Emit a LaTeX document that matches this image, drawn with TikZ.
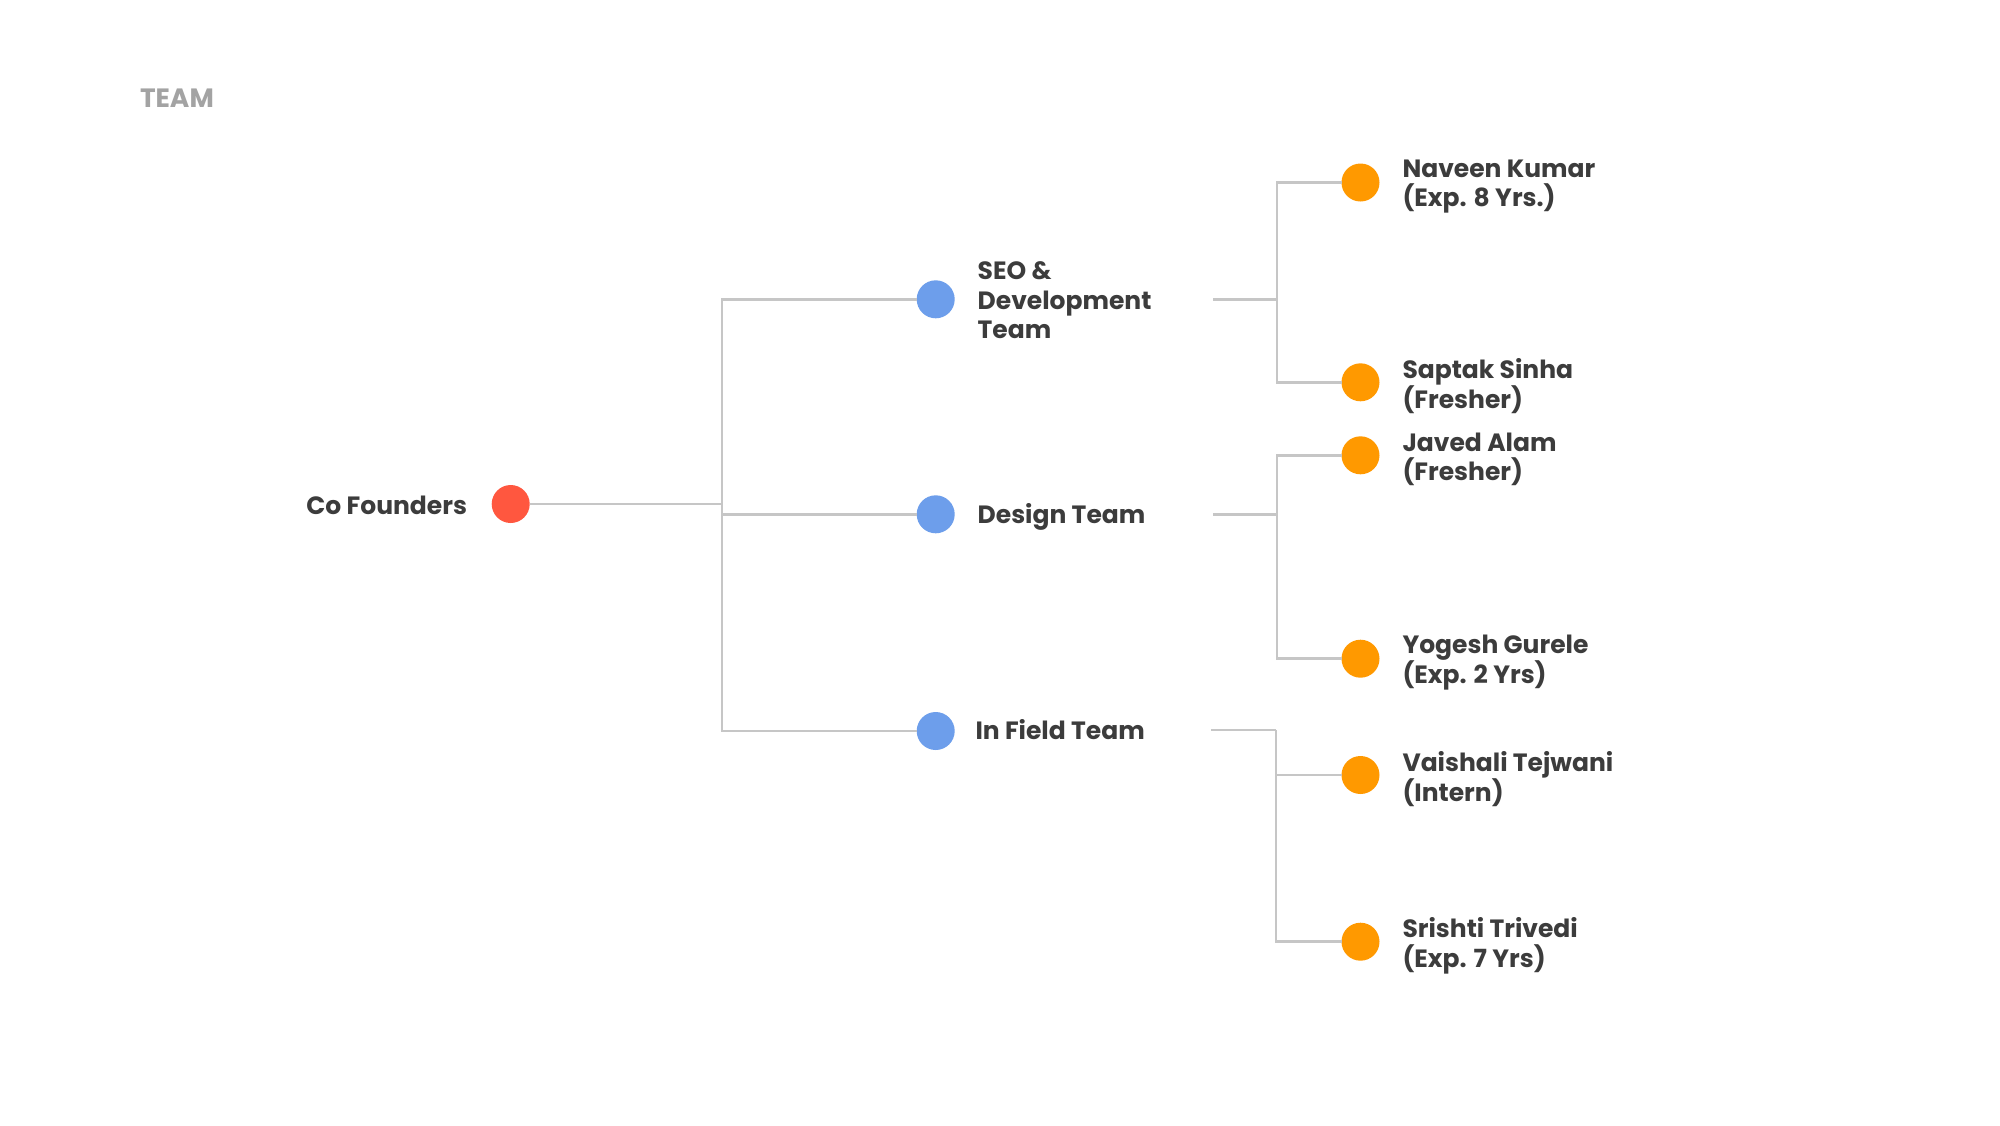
\documentclass[tikz,border=0pt]{standalone}
\usepackage{fontspec}
\setmainfont{Poppins}
\begin{document}
\begin{tikzpicture}[x=1pt,y=-1pt,
  every node/.style={inner sep=0pt, outer sep=0pt},
  dotbase/.style={circle, minimum size=38pt},
  reddot/.style={dotbase, fill=cfred},
  bluedot/.style={dotbase, fill=teamblue},
  orangedot/.style={dotbase, fill=memorange},
  lbl/.style={font=\fontsize{25}{29.5}\selectfont\bfseries, text=labeldark, align=left},
  conn/.style={draw=linegray, line width=2.5pt}]
\definecolor{cfred}{HTML}{FF573F}
\definecolor{teamblue}{HTML}{6D9EEB}
\definecolor{memorange}{HTML}{FF9900}
\definecolor{labeldark}{HTML}{3C3C3C}
\definecolor{linegray}{HTML}{C6C6C6}
\definecolor{titlegray}{HTML}{A3A3A3}
\fill[white] (0,0) rectangle (2000,1125);
\useasboundingbox (0,0) rectangle (2000,1125);

\node[font=\fontsize{26.5}{30}\selectfont\bfseries, text=titlegray, anchor=west] (title) at (140,98) {TEAM};

% dots
\node[reddot] (cf) at (510.7,504) {};
\node[bluedot] (seo) at (935.7,299.3) {};
\node[bluedot] (des) at (935.7,514.3) {};
\node[bluedot] (inf) at (935.7,731) {};
\node[orangedot] (nav) at (1360.5,182.5) {};
\node[orangedot] (sap) at (1360.5,382.3) {};
\node[orangedot] (jav) at (1360.5,455.3) {};
\node[orangedot] (yog) at (1360.5,658.7) {};
\node[orangedot] (vai) at (1360.5,775) {};
\node[orangedot] (sri) at (1360.5,941.7) {};

% labels
\node[lbl, anchor=east] (cfl) at (467,505) {Co Founders};
\node[lbl, anchor=west] (seol) at (977.7,300.5) {SEO \&\\Development\\Team};
\node[lbl, anchor=west] (desl) at (977.7,517.3) {Design Team};
\node[lbl, anchor=west] (infl) at (975.5,730) {In Field Team};
\node[lbl, anchor=west] (navl) at (1402.5,186.5) {Naveen Kumar\\(Exp. 8 Yrs.)};
\node[lbl, anchor=west] (sapl) at (1402.5,386.3) {Saptak Sinha\\(Fresher)};
\node[lbl, anchor=west] (javl) at (1402.5,459.3) {Javed Alam\\(Fresher)};
\node[lbl, anchor=west] (yogl) at (1402.5,662.7) {Yogesh Gurele\\(Exp. 2 Yrs)};
\node[lbl, anchor=west] (vail) at (1402.5,779) {Vaishali Tejwani\\(Intern)};
\node[lbl, anchor=west] (sril) at (1402.5,945.7) {Srishti Trivedi\\(Exp. 7 Yrs)};

% junction coordinates
\coordinate (j0) at (722,504);
\coordinate (s1) at (1213,299.3);
\coordinate (s2) at (1277,299.3);
\coordinate (d1) at (1213,514.3);
\coordinate (d2) at (1277,514.3);
\coordinate (f1) at (1211,730);
\coordinate (f2) at (1276,730);

% connectors
\draw[conn] (cf) -- (j0);
\draw[conn] (j0) |- (seo);
\draw[conn] (j0) |- (des);
\draw[conn] (j0) |- (inf);
\draw[conn] (s1) -- (s2);
\draw[conn] (s2) |- (nav);
\draw[conn] (s2) |- (sap);
\draw[conn] (d1) -- (d2);
\draw[conn] (d2) |- (jav);
\draw[conn] (d2) |- (yog);
\draw[conn] (f1) -- (f2);
\draw[conn] (f2) |- (vai);
\draw[conn] (f2) |- (sri);
\end{tikzpicture}
\end{document}
